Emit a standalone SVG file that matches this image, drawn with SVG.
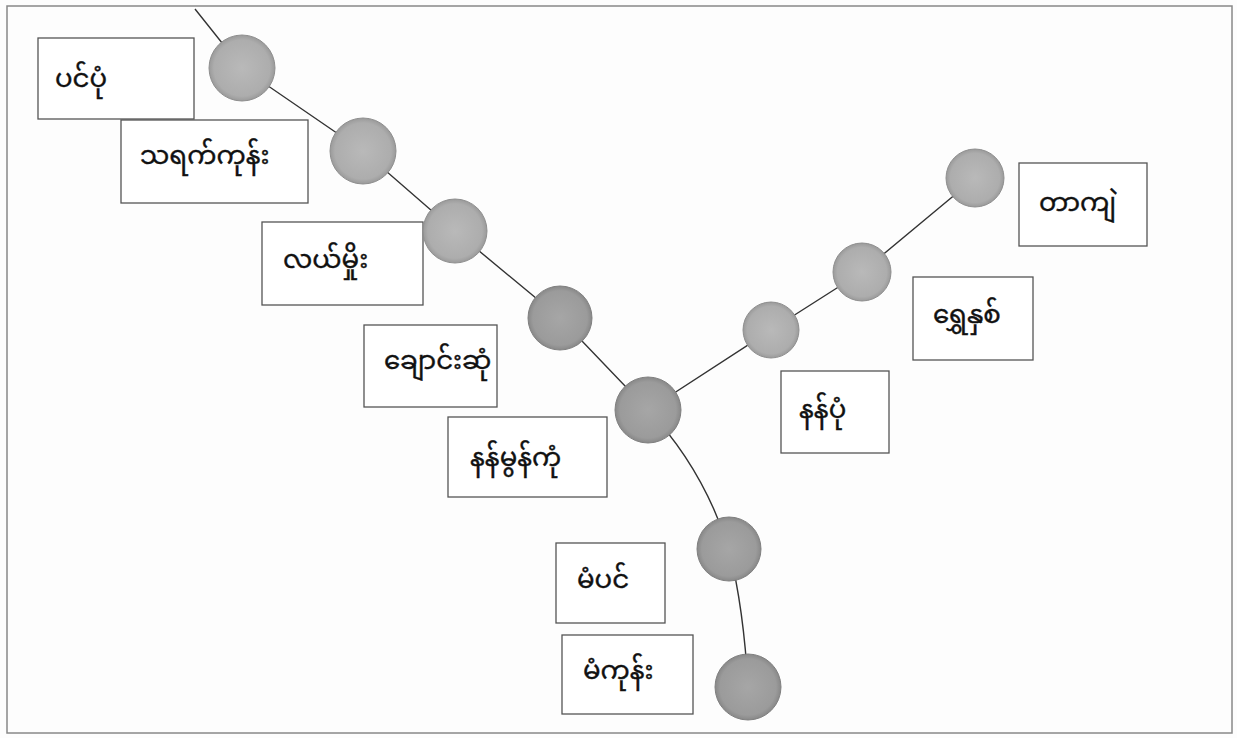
<svg xmlns="http://www.w3.org/2000/svg" width="1237" height="738" viewBox="0 0 1237 738">
<style>
.box{fill:#ffffff;stroke:#555;stroke-width:1.3}
.lbl{font-family:"Noto Sans Myanmar","Padauk","Myanmar Text","Noto Sans",sans-serif;font-size:26px;fill:#111;stroke:#111;stroke-width:0.4}
.edge{fill:none;stroke:#333;stroke-width:1.4}
.nodeA{fill:url(#gA);stroke:#8f8f8f;stroke-width:1}
.nodeB{fill:url(#gB);stroke:#808080;stroke-width:1}
</style>
<defs>
<radialGradient id="gA" cx="50%" cy="50%" r="50%"><stop offset="0" stop-color="#b9b9b9"/><stop offset="0.85" stop-color="#adadad"/><stop offset="1" stop-color="#9a9a9a"/></radialGradient>
<radialGradient id="gB" cx="50%" cy="50%" r="50%"><stop offset="0" stop-color="#a6a6a6"/><stop offset="0.85" stop-color="#9b9b9b"/><stop offset="1" stop-color="#888888"/></radialGradient>
</defs>
<rect x="0" y="0" width="1237" height="738" fill="#fdfdfd"/>
<rect x="7" y="6" width="1225" height="727" fill="none" stroke="#888" stroke-width="1.5"/>
<g id="connectors">
<polyline class="edge" points="195,9 242,68 363,151 455,231 560,318 648,410"/>
<path class="edge" d="M648,410 Q703,468 729,549 Q744,610 748,687"/>
<polyline class="edge" points="648,410 771,330 862,272 975,178"/>
</g>
<g id="n1"><circle class="nodeA" cx="242" cy="68" r="33"/><rect class="box" x="38" y="38" width="156" height="81"/><text class="lbl" x="55" y="87">ပင်ပုံ</text></g>
<g id="n2"><circle class="nodeA" cx="363" cy="151" r="33"/><rect class="box" x="121" y="120" width="187" height="83"/><text class="lbl" x="140" y="164">သရက်ကုန်း</text></g>
<g id="n3"><rect class="box" x="262" y="222" width="161" height="83"/><circle class="nodeA" cx="455" cy="231" r="32"/><text class="lbl" x="283" y="268">လယ်မှိုး</text></g>
<g id="n4"><circle class="nodeB" cx="560" cy="318" r="32"/><rect class="box" x="364" y="325" width="133" height="82"/><text class="lbl" x="384" y="369">ချောင်းဆုံ</text></g>
<g id="n5"><circle class="nodeB" cx="648" cy="410" r="33"/><rect class="box" x="448" y="417" width="159" height="80"/><text class="lbl" x="470" y="466">နန်မွန်ကုံ</text></g>
<g id="n6"><circle class="nodeB" cx="729" cy="549" r="32"/><rect class="box" x="556" y="543" width="109" height="80"/><text class="lbl" x="577" y="588">မံပင်</text></g>
<g id="n7"><circle class="nodeB" cx="748" cy="687" r="33"/><rect class="box" x="562" y="635" width="131" height="79"/><text class="lbl" x="583" y="679">မံကုန်း</text></g>
<g id="n8"><circle class="nodeA" cx="771" cy="330" r="28"/><rect class="box" x="781" y="371" width="108" height="82"/><text class="lbl" x="799" y="418">နန်ပုံ</text></g>
<g id="n9"><circle class="nodeA" cx="862" cy="272" r="29"/><rect class="box" x="913" y="277" width="120" height="83"/><text class="lbl" x="933" y="323">ရွှေနှစ်</text></g>
<g id="n10"><circle class="nodeA" cx="975" cy="178" r="29"/><rect class="box" x="1019" y="163" width="128" height="83"/><text class="lbl" x="1039" y="211">တာကျဲ</text></g>
</svg>
